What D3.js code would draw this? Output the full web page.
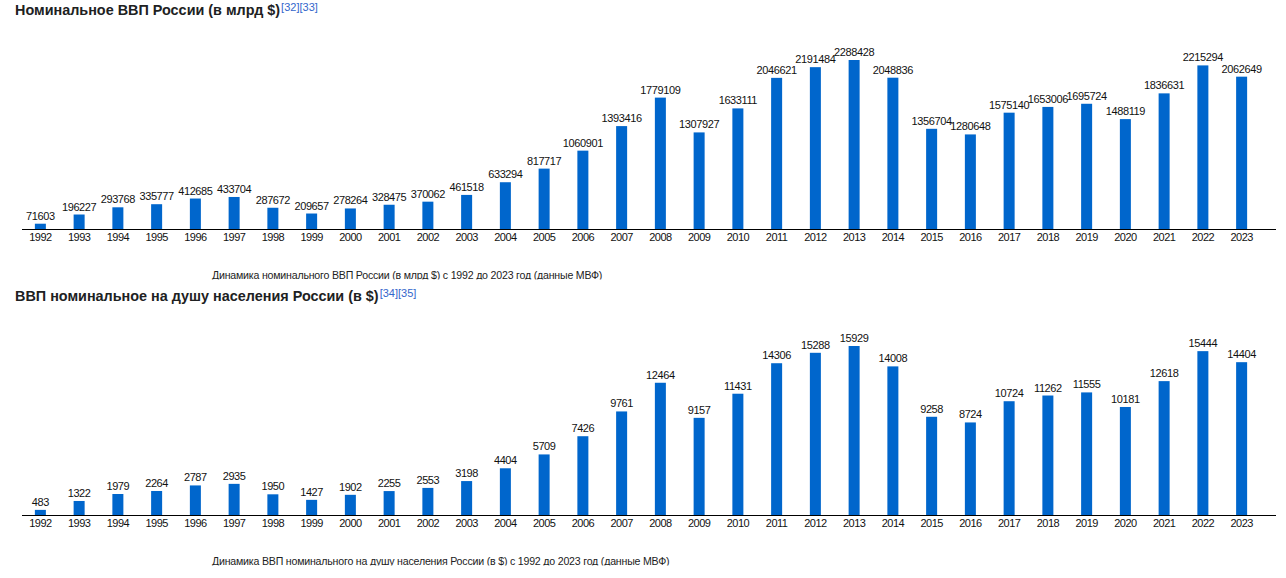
<!DOCTYPE html>
<html>
<head>
<meta charset="utf-8">
<script src="https://cdn.jsdelivr.net/npm/d3@7"></script>
<style>
  body { margin: 0; background: #fff; }
  text { font-family: "Liberation Sans", Arial, sans-serif; }
</style>
</head>
<body>
<div id="container"></div>
<script>
      //Data (IMF)
      var years = ["1992","1993","1994","1995","1996","1997","1998","1999","2000","2001","2002","2003","2004","2005","2006","2007","2008","2009","2010","2011","2012","2013","2014","2015","2016","2017","2018","2019","2020","2021","2022","2023"];
      var gdpValues = [71603,196227,293768,335777,412685,433704,287672,209657,278264,328475,370062,461518,633294,817717,1060901,1393416,1779109,1307927,1633111,2046621,2191484,2288428,2048836,1356704,1280648,1575140,1653006,1695724,1488119,1836631,2215294,2062649];
      var perCapitaValues = [483,1322,1979,2264,2787,2935,1950,1427,1902,2255,2553,3198,4404,5709,7426,9761,12464,9157,11431,14306,15288,15929,14008,9258,8724,10724,11262,11555,10181,12618,15444,14404];

      var titles = ["Номинальное ВВП России (в млрд $)", "ВВП номинальное на душу населения России (в $)"];
      var refs = ["[32][33]", "[34][35]"];
      var captions = [
        "Динамика номинального ВВП России (в млрд $) с 1992 до 2023 год (данные МВФ)",
        "Динамика ВВП номинального на душу населения России (в $) с 1992 до 2023 год (данные МВФ)"
      ];

      //Width and height
      var w = 1286;
      var h = 578;
      var barColor = "#0066cc";

      var svg = d3.select("#container")
            .append("svg")
            .attr("width", w)
            .attr("height", h);

      var x = d3.scaleBand()
            .domain(years)
            .range([21, 1261])
            .paddingInner(0.716)
            .paddingOuter(0.358);

      function drawChart(offset, values, title, ref, caption, idx) {
        var g = svg.append("g").attr("transform", "translate(0," + offset + ")");
        var base = 229;

        var y = d3.scaleLinear()
              .domain([0, d3.max(values)])
              .range([base, 60]);

        //Title with reference links
        var t = g.append("text")
              .attr("x", 15)
              .attr("y", 15)
              .attr("font-size", "14.4px")
              .attr("font-weight", "bold")
              .attr("fill", "#202122")
              .text(title);
        t.append("tspan")
              .attr("dx", 1)
              .attr("dy", -4)
              .attr("font-size", "11px")
              .attr("font-weight", "normal")
              .attr("fill", "#3366cc")
              .text(ref);

        //Bars
        g.selectAll("rect.bar")
          .data(values)
          .enter()
          .append("rect")
          .attr("class", "bar")
          .attr("x", function(d, i) { return x(years[i]); })
          .attr("width", x.bandwidth())
          .attr("y", function(d) { return y(d); })
          .attr("height", function(d) { return base - y(d); })
          .attr("fill", barColor);

        //Value labels
        g.selectAll("text.val")
          .data(values)
          .enter()
          .append("text")
          .attr("class", "val")
          .attr("x", function(d, i) { return x(years[i]) + x.bandwidth() / 2; })
          .attr("y", function(d) { return y(d) - 4; })
          .attr("text-anchor", "middle")
          .attr("font-size", "11px")
          .attr("letter-spacing", "-0.4px")
          .attr("fill", "#111")
          .text(function(d) { return d; });

        //Axis
        var axis = d3.axisBottom(x).tickSize(0).tickPadding(4);
        var ag = g.append("g")
              .attr("transform", "translate(0," + base + ")")
              .call(axis);
        ag.select(".domain").remove();
        ag.selectAll("text")
          .attr("font-size", "11px")
          .attr("letter-spacing", "-0.5px")
          .attr("fill", "#111")
          .attr("font-family", "Liberation Sans, Arial, sans-serif");
        g.append("line")
          .attr("x1", 22).attr("x2", 1276)
          .attr("y1", base + 0.5).attr("y2", base + 0.5)
          .attr("stroke", "#000")
          .attr("stroke-width", 1.2);

        //Caption (clipped at bottom like the original)
        var clipId = "capclip" + idx;
        g.append("clipPath").attr("id", clipId)
          .append("rect")
          .attr("x", 0).attr("y", 260)
          .attr("width", w).attr("height", 19.5);
        g.append("text")
          .attr("clip-path", "url(#" + clipId + ")")
          .attr("x", 212)
          .attr("y", 279)
          .attr("font-size", "10.6px")
          .attr("letter-spacing", "-0.2px")
          .attr("fill", "#222")
          .text(caption);
      }

      drawChart(0, gdpValues, titles[0], refs[0], captions[0], 0);
      drawChart(286, perCapitaValues, titles[1], refs[1], captions[1], 1);
</script>
</body>
</html>
